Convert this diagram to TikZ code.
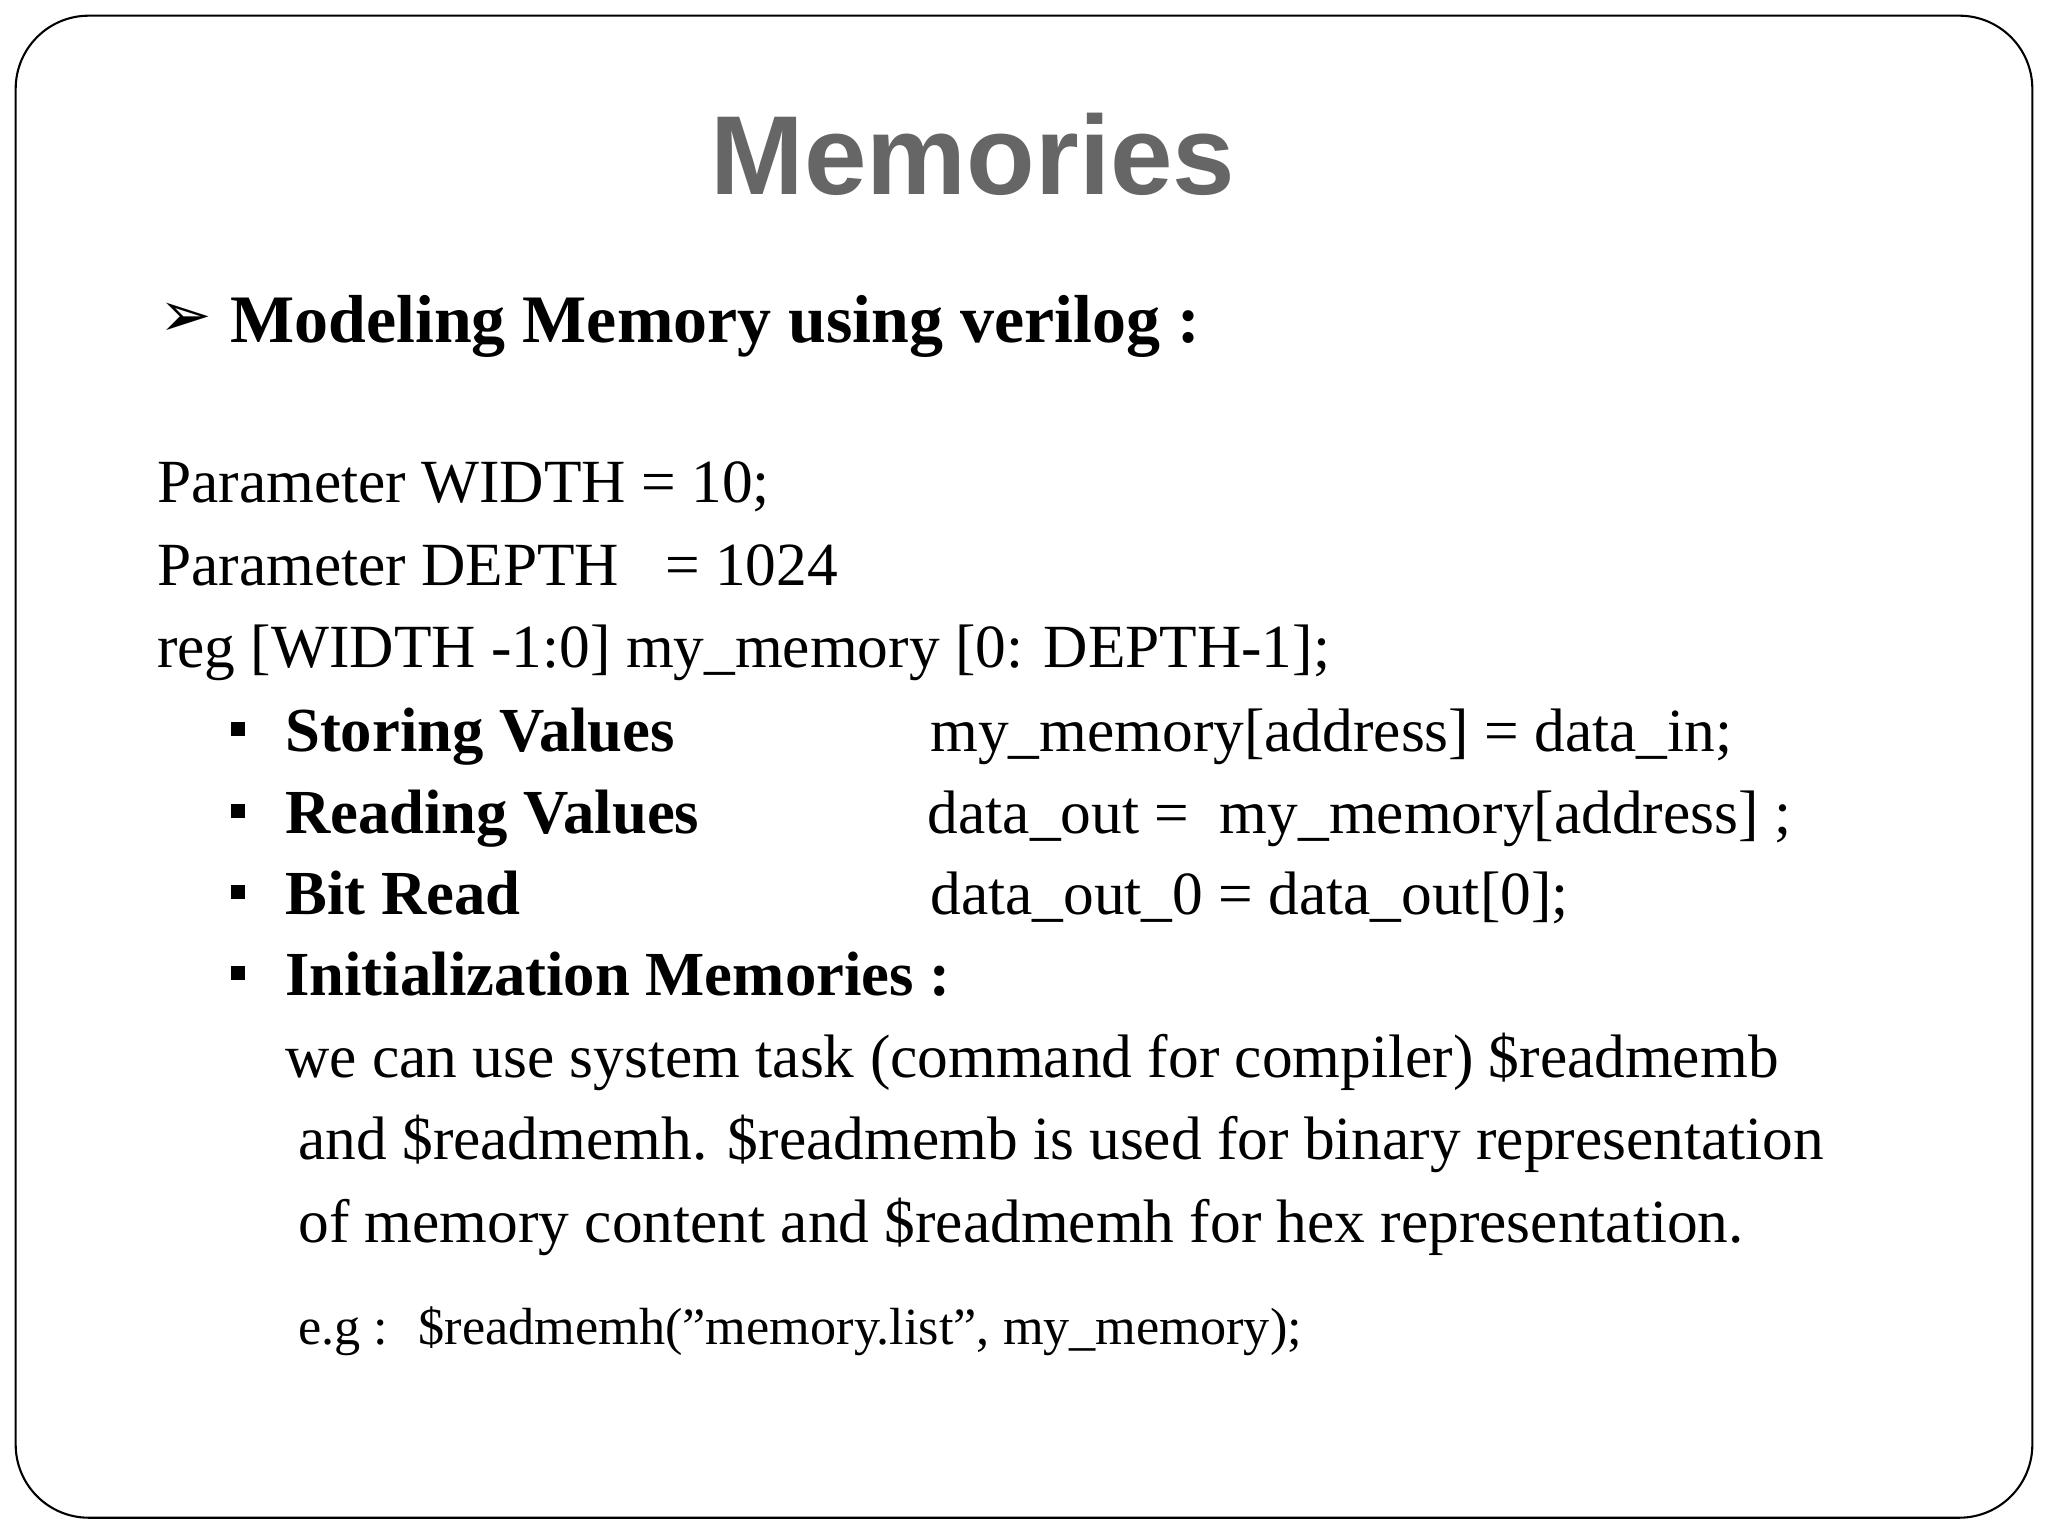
\documentclass[tikz,border=0pt]{standalone}
\usepackage{fontspec}
\setmainfont{Liberation Serif}
\newfontfamily\titlefont{Liberation Sans}
\newfontfamily\symfont{DejaVu Sans}
\begin{document}
\begin{tikzpicture}[x=0.5pt,y=-0.5pt,
  txt/.style={anchor=base west,inner sep=0pt,font=\fontsize{23.5}{26}\selectfont},
  bld/.style={txt,font=\fontsize{24}{26}\selectfont\bfseries},
  bul/.style={anchor=center,inner sep=0pt,fill=black,minimum size=5.5pt}]
\fill[white] (0,0) rectangle (1568,1176);
\useasboundingbox (0,0) rectangle (1568,1176);
\draw[line width=0.8pt,rounded corners=28pt] (12,12) rectangle (1556,1162);
\node[anchor=center,text=black!60,font=\titlefont\fontsize{43}{48}\selectfont\bfseries] (title) at (745,118) {Memories};
\node[anchor=center,inner sep=0pt,font=\symfont\fontsize{24}{26}\selectfont\bfseries] (arr) at (142,245) {➢};
\node[bld,font=\fontsize{26}{28}\selectfont\bfseries] (h) at (176,262) {Modeling Memory using verilog :};
\node[txt] (l1) at (120,385) {Parameter WIDTH = 10;};
\node[txt] (l2) at (120,448) {Parameter DEPTH \ \ = 1024};
\node[txt] (l3) at (120,511) {reg [WIDTH -1:0] my\_memory [0: DEPTH-1];};
\foreach \y/\n in {558/b1,621/b2,683/b3,745/b4}{\node[bul] (\n) at (182,\y) {};}
\node[bld] (s1) at (218,575) {Storing Values};
\node[bld] (s2) at (218,638) {Reading Values};
\node[bld] (s3) at (218,700) {Bit Read};
\node[bld] (s4) at (218,762) {Initialization Memories :};
\node[txt] (c1) at (712,575) {my\_memory[address] = data\_in;};
\node[txt] (c2) at (710,638) {data\_out = \ my\_memory[address] ;};
\node[txt] (c3) at (712,700) {data\_out\_0 = data\_out[0];};
\node[txt] (p1) at (218,825) {we can use system task (command for compiler) \$readmemb};
\node[txt] (p2) at (228,888) {and \$readmemh. \$readmemb is used for binary representation};
\node[txt] (p3) at (228,951) {of memory content and \$readmemh for hex representation.};
\node[txt,font=\fontsize{20}{22}\selectfont] (eg) at (228,1029) {e.g : \ \$readmemh(\char"22 memory.list\char"22, my\_memory);};
\end{tikzpicture}
\end{document}
